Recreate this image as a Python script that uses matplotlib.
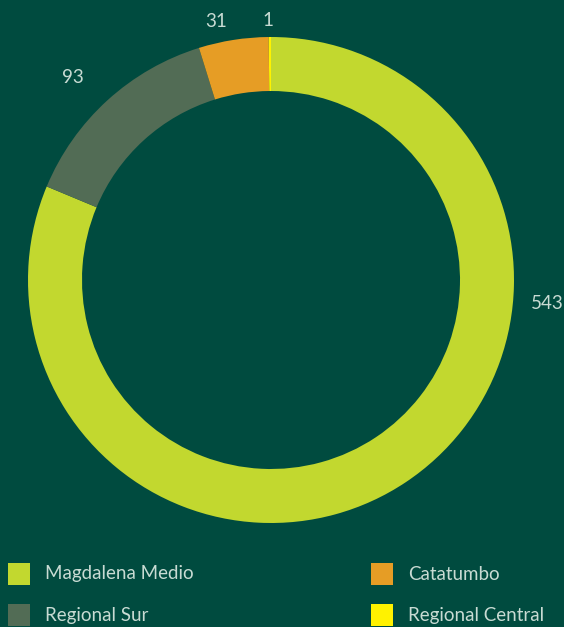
import numpy as np
import matplotlib
matplotlib.use("Agg")
import matplotlib.pyplot as plt
from matplotlib.patches import Rectangle

# Data
regions = ["Magdalena Medio", "Regional Sur", "Catatumbo", "Regional Central"]
values = [543, 93, 31, 1]
colors = ["#C2D82F", "#526C55", "#E69D25", "#FFF200"]
# (angle in degrees, radius in px) for each value label
label_pos = [(-4.8, 277), (134.3, 283), (102.0, 264), (90.7, 260)]

BG = "#004B3F"
TXT = "#C8DBD3"
FONT = ["Lato", "DejaVu Sans"]
FS = 13.5

W, H = 564, 627
fig = plt.figure(figsize=(W / 100, H / 100), dpi=100, facecolor=BG)
ax = fig.add_axes([0, 0, 1, 1])
ax.set_facecolor(BG)

cx, cy = 271, H - 280
r_out, ring = 243, 54

wedges, _ = ax.pie(values, colors=colors, startangle=90, counterclock=False,
                   radius=r_out, center=(cx, cy),
                   wedgeprops=dict(width=ring, edgecolor="none", linewidth=0))

# Value labels outside the ring
for v, (a, rr) in zip(values, label_pos):
    ang = np.deg2rad(a)
    ax.text(cx + rr * np.cos(ang), cy + rr * np.sin(ang), str(v),
            ha="center", va="center", fontsize=FS, color=TXT,
            family=FONT, fontweight="normal")

# Legend (two columns, filled row by row in this order)
order = [0, 2, 1, 3]
sq = 22
cols_x = [8, 371]
rows_y = [H - 574, H - 615]
for i, k in enumerate(order):
    col, row = i % 2, i // 2
    x0, yc = cols_x[col], rows_y[row]
    ax.add_patch(Rectangle((x0, yc - sq / 2), sq, sq, facecolor=colors[k],
                           edgecolor="none", clip_on=False))
    ax.text(x0 + sq + 15, yc, regions[k], ha="left", va="center", fontsize=FS,
            color=TXT, family=FONT, fontweight="normal")

ax.set_xlim(0, W)
ax.set_ylim(0, H)
ax.set_aspect("equal")
ax.axis("off")

fig.savefig("out.png", dpi=100, facecolor=BG)
